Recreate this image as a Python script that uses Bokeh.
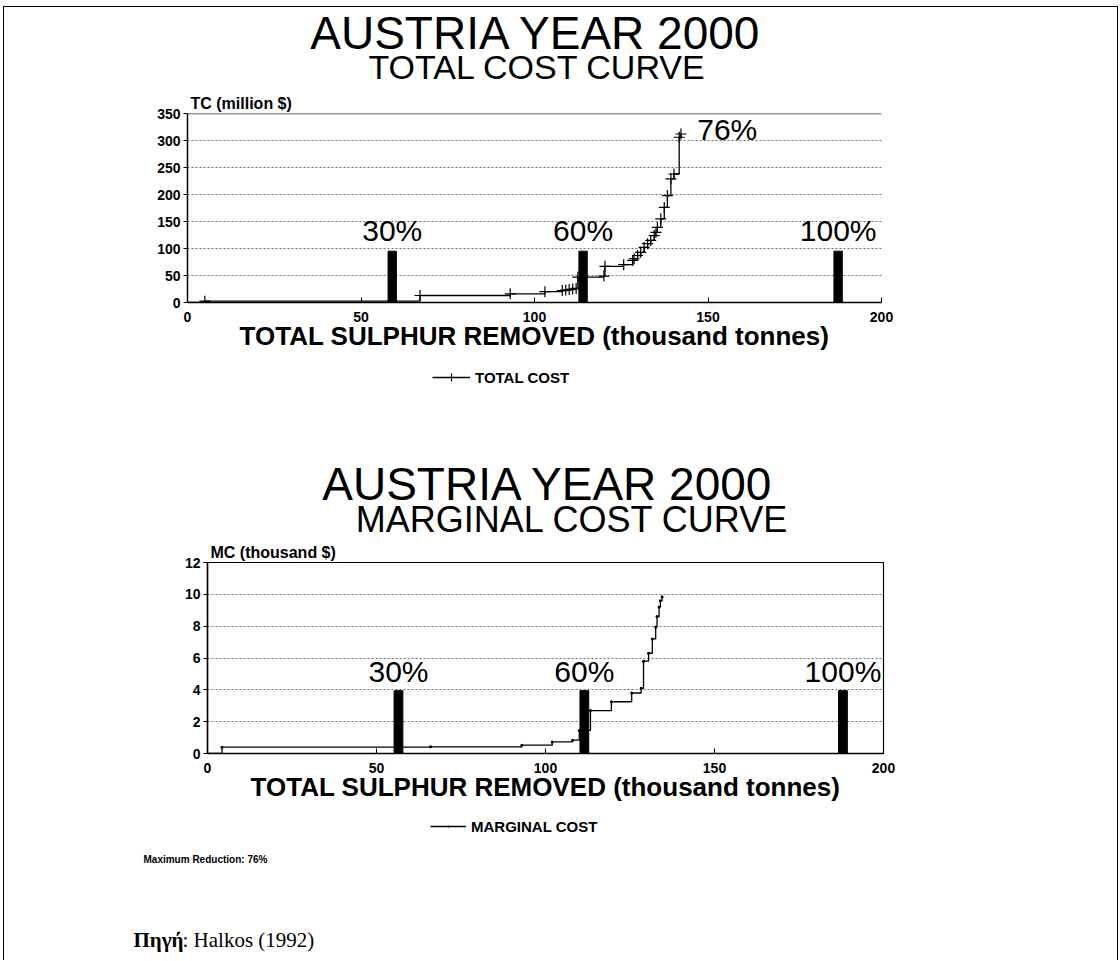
from bokeh.plotting import figure
from bokeh.models import Legend, LegendItem, Span, FixedTicker, Range1d, Title
from bokeh.layouts import column
from bokeh.embed import file_html
from bokeh.resources import INLINE
from bokeh.core.properties import value

# ---------------- data ----------------
x_ticks = [0, 50, 100, 150, 200]
tc_y_ticks = [0, 50, 100, 150, 200, 250, 300, 350]
mc_y_ticks = [0, 2, 4, 6, 8, 10, 12]

pct_labels = ["30%", "60%", "100%"]
tc_bar_x = [59, 114, 187.5]
tc_bar_top = [95, 95, 95]
mc_bar_x = [56.5, 111.5, 188]
mc_bar_top = [3.95, 3.95, 3.95]

# total cost curve (thousand tonnes, million $)
tc_x = [0, 5, 67, 93, 103, 108, 109, 110, 111, 112, 112.5, 120, 120.3, 125.7,
        128.3, 128.7, 129.7, 130.6, 131.6, 132.6, 133.5, 134.5, 135, 135.4,
        136.4, 137.4, 138.3, 139.3, 140.2, 141.7, 142.2]
tc_y = [0, 2.5, 13, 16, 20, 22, 23, 24, 25, 26, 47, 49, 67, 70,
        78, 81, 87, 93, 102, 109, 115, 124, 130, 139,
        155, 176, 198, 229, 238, 306, 312]

# marginal cost curve (thousand tonnes, thousand $)
mc_x = [0, 4.3, 66, 93, 102, 108, 110, 113.3, 119.5, 125.5, 128.3, 129,
        130.5, 131.6, 132.6, 133, 133.6, 134, 134.5]
mc_y = [0, 0.40, 0.42, 0.52, 0.73, 0.84, 1.45, 2.7, 3.25, 3.8, 4.1, 5.8,
        6.3, 7.2, 7.95, 8.6, 9.2, 9.6, 9.85]

max_reduction = "76%"
country_title = "AUSTRIA YEAR 2000"
tc_title = "TOTAL COST CURVE"
mc_title = "MARGINAL COST CURVE"
x_label = "TOTAL SULPHUR REMOVED (thousand tonnes)"
source_bold = "Πηγή"
source_rest = ": Halkos (1992)"

FONT = "Liberation Sans"
SERIF = "Liberation Serif"
W = 1113


def chart_fig(height, fl, fw, ft, fh, ymax, yticks, grid_ticks, outline, ylabel):
    p = figure(width=W, height=height, x_range=Range1d(0, 200), y_range=Range1d(0, ymax),
               output_backend="svg", toolbar_location=None, frame_align=False,
               min_border_left=fl, min_border_right=W - fl - fw,
               min_border_top=ft, min_border_bottom=height - ft - fh)
    p.title.visible = False
    p.outline_line_color = "black" if outline else None
    p.outline_line_width = 1.2
    p.xgrid.visible = False
    p.ygrid.ticker = FixedTicker(ticks=grid_ticks)
    p.ygrid.grid_line_color = "#6e6e6e"
    p.ygrid.grid_line_dash = "2 2"
    p.ygrid.grid_line_width = 1

    xa = p.xaxis[0]
    xa.ticker = FixedTicker(ticks=x_ticks)
    xa.major_tick_in = 5
    xa.major_tick_out = 0
    xa.minor_tick_line_color = None
    xa.axis_line_color = "black"
    xa.axis_line_width = 1.5
    xa.major_tick_line_color = "black"
    xa.major_label_text_font = FONT
    xa.major_label_text_font_style = "bold"
    xa.major_label_text_font_size = "14px"
    xa.major_label_text_color = "black"
    xa.major_label_standoff = 9
    xa.axis_label = x_label
    xa.axis_label_text_font = FONT
    xa.axis_label_text_font_style = "bold"
    xa.axis_label_text_font_size = "26px"
    xa.axis_label_text_color = "black"
    xa.axis_label_standoff = -4

    ya = p.yaxis[0]
    ya.ticker = FixedTicker(ticks=yticks)
    ya.major_tick_in = 0
    ya.major_tick_out = 4
    ya.minor_tick_line_color = None
    ya.axis_line_color = "black"
    ya.axis_line_width = 1.5
    ya.major_tick_line_color = "black"
    ya.major_label_text_font = FONT
    ya.major_label_text_font_style = "bold"
    ya.major_label_text_font_size = "14px"
    ya.major_label_text_color = "black"
    ya.major_label_standoff = 3

    p.add_layout(Title(text=ylabel, align="left", offset=3, standoff=3,
                       text_font=FONT, text_font_style="bold", text_font_size="16px",
                       text_color="black"), "above")
    return p


def text_fig(height):
    p = figure(width=W, height=height, x_range=Range1d(0, W), y_range=Range1d(height, 0),
               output_backend="svg", toolbar_location=None, frame_align=False,
               x_axis_type=None, y_axis_type=None, min_border=0)
    p.title.visible = False
    p.outline_line_color = None
    # range used only to keep legend proxy renderers out of sight
    p.extra_y_ranges = {"proxy": Range1d(10000, 20000)}
    return p


def put_text(p, x, y, text, size, bold=False, align="left", font=FONT):
    p.text(x=[x], y=[y], text=[text], text_font=value(font), text_font_size=size,
           text_font_style="bold" if bold else "normal", text_align=align,
           text_baseline="middle", text_color="black")


def add_legend(p, label, renderers, loc, gw):
    leg = Legend(items=[LegendItem(label=label, renderers=renderers)], location=loc,
                 orientation="horizontal")
    leg.border_line_color = None
    leg.background_fill_alpha = 0
    leg.label_text_font = FONT
    leg.label_text_font_style = "bold"
    leg.label_text_font_size = "15px"
    leg.label_text_color = "black"
    leg.glyph_width = gw
    leg.glyph_height = 20
    leg.label_height = 20
    leg.padding = 0
    leg.margin = 0
    leg.label_standoff = 5
    p.add_layout(leg, "center")


# ---------------- header 1 ----------------
h1 = text_fig(83)
put_text(h1, 532, 25, country_title, "46px", align="center")
put_text(h1, 533, 59, tc_title, "34px", align="center")

# ---------------- top chart: total cost ----------------
p1 = chart_fig(272, 183, 694, 23, 189, 350, tc_y_ticks, [50, 100, 150, 200, 250, 300],
               False, "TC (million $)")
p1.add_layout(Span(location=350, dimension="width", line_color="#333333", line_width=1.5))
p1.vbar(x=tc_bar_x, top=tc_bar_top, bottom=0, width=2.4, color="black")
p1.text(x=tc_bar_x, y=[133] * 3, text=pct_labels, text_align="center",
        text_baseline="middle", text_font=value(FONT), text_font_size="30px",
        text_color="black")
p1.step(tc_x, tc_y, mode="after", line_color="black", line_width=1.3)
p1.scatter(tc_x[1:], tc_y[1:], marker="cross", size=11, line_color="black", line_width=1.2)
p1.text(x=[146.9], y=[320], text=[max_reduction], text_align="left",
        text_baseline="middle", text_font=value(FONT), text_font_size="30px",
        text_color="black")

# ---------------- legend 1 ----------------
f1 = text_fig(93)
l1 = f1.step(tc_x, tc_y, mode="after", line_color="black", line_width=1.3, y_range_name="proxy")
m1 = f1.scatter(tc_x, tc_y, marker="cross", size=11, line_color="black", line_width=1.2,
                y_range_name="proxy")
add_legend(f1, "TOTAL COST", [l1, m1], (428, 68), 38)

# ---------------- header 2 ----------------
h2 = text_fig(85)
put_text(h2, 544, 28, country_title, "46px", align="center")
put_text(h2, 568, 64, mc_title, "36px", align="center")

# ---------------- bottom chart: marginal cost ----------------
p2 = chart_fig(270, 203, 676, 22, 191, 12, mc_y_ticks, [2, 4, 6, 8, 10], True,
               "MC (thousand $)")
p2.vbar(x=mc_bar_x, top=mc_bar_top, bottom=0, width=2.6, color="black")
p2.text(x=mc_bar_x, y=[5.17] * 3, text=pct_labels, text_align="center",
        text_baseline="middle", text_font=value(FONT), text_font_size="30px",
        text_color="black")
p2.step(mc_x, mc_y, mode="after", line_color="black", line_width=1.3)
p2.scatter(mc_x[1:], mc_y[1:], marker="dot", size=12, color="black")

# ---------------- footer ----------------
f2 = text_fig(150)
l2 = f2.step(mc_x, mc_y, mode="after", line_color="black", line_width=1.3, y_range_name="proxy")
m2 = f2.scatter(mc_x, mc_y, marker="dot", size=12, color="black", y_range_name="proxy")
add_legend(f2, "MARGINAL COST", [l2, m2], (426, 124), 36)
put_text(f2, 139, 49, "Maximum Reduction: " + max_reduction, "10px", bold=True)
put_text(f2, 129, 129, source_bold, "21px", bold=True, font=SERIF)
put_text(f2, 178, 129, source_rest, "21px", font=SERIF)

page = column(h1, p1, f1, h2, p2, f2, spacing=0,
              styles={"margin-left": "3px", "margin-top": "6px",
                      "border-top": "1px solid black", "border-left": "1px solid black",
                      "border-right": "1px solid black"})

open("out.html", "w").write(file_html(page, INLINE))
